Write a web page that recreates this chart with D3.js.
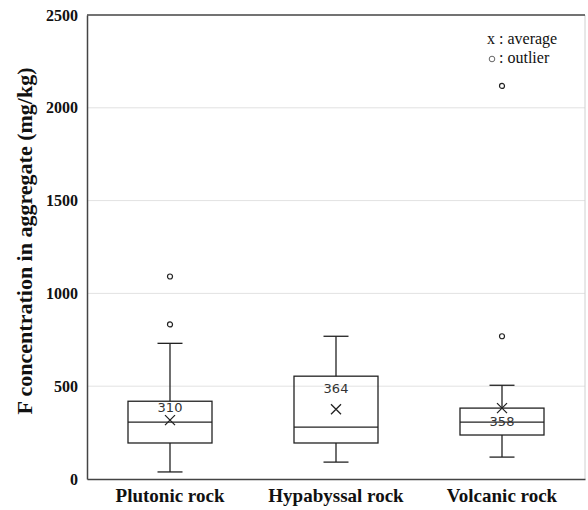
<!DOCTYPE html>
<html>
<head>
<meta charset="utf-8">
<script src="https://cdn.jsdelivr.net/npm/d3@7"></script>
<style>
body{margin:0;background:#fff;}
svg{display:block;}
</style>
</head>
<body>
<script>
// values (mg/kg)
var categories=['Plutonic rock','Hypabyssal rock','Volcanic rock'];
var whisker_low=[38,91,118];
var q1=[194,194,237];
var median=[306,280,306];
var q3=[419,554,382];
var whisker_high=[731,769,505];
var mean_value=[317,376,382];
var mean_label=['310','364','358'];
var outliers=[[833,1091],[],[769,2118]];
var yticks=[0,500,1000,1500,2000,2500];

var W=588,H=510;
var marg_left=87,marg_right=3,marg_top=15,marg_bottom=31;
var serif='"Liberation Serif","Times New Roman",serif';

var svg=d3.select('body').append('svg').attr('width',W).attr('height',H);

var xScale=d3.scaleBand()
	.domain(categories)
	.range([marg_left,W-marg_right]);
var yScale=d3.scaleLinear()
	.domain([0,2500])
	.range([H-marg_bottom,marg_top]);

// gridlines
svg.append('g').selectAll('line')
	.data(yticks.filter(function(d){return d>0&&d<2500;}))
	.enter().append('line')
	.attr('x1',marg_left).attr('x2',W-marg_right)
	.attr('y1',function(d){return yScale(d);})
	.attr('y2',function(d){return yScale(d);})
	.attr('stroke','#e2e2e2').attr('stroke-width',1);

// frame: right side light, top/left/bottom dark
svg.append('line')
	.attr('x1',W-marg_right).attr('x2',W-marg_right)
	.attr('y1',marg_top).attr('y2',H-marg_bottom)
	.attr('stroke','#d0d0d0');
svg.append('line')
	.attr('x1',marg_left).attr('x2',W-marg_right)
	.attr('y1',marg_top).attr('y2',marg_top)
	.attr('stroke','#444').attr('stroke-width',1.5);

var yAxis=d3.axisLeft(yScale).tickValues(yticks).tickFormat(d3.format('d')).tickSize(0).tickPadding(9);
var gy=svg.append('g')
	.attr('transform','translate('+marg_left+',0)')
	.call(yAxis);
gy.select('.domain').attr('stroke','#444').attr('stroke-width',1.5);
gy.selectAll('text')
	.attr('font-family',serif)
	.attr('font-weight','bold')
	.attr('font-size','16px')
	.attr('fill','#111');

var xAxis=d3.axisBottom(xScale).tickSize(0).tickPadding(10);
var gx=svg.append('g')
	.attr('transform','translate(0,'+(H-marg_bottom)+')')
	.call(xAxis);
gx.select('.domain').attr('stroke','#444').attr('stroke-width',1.5);
gx.selectAll('text')
	.attr('font-family',serif)
	.attr('font-weight','bold')
	.attr('font-size','19px')
	.attr('fill','#111');

// y axis label
svg.append('text')
	.attr('transform','rotate(-90)')
	.attr('x',-241)
	.attr('y',32)
	.style('text-anchor','middle')
	.attr('font-family',serif)
	.attr('font-weight','bold')
	.attr('font-size','22px')
	.attr('fill','#111')
	.text('F concentration in aggregate (mg/kg)');

var box_w=84,cap_w=25;
var data=categories.map(function(c,i){
	return {cat:c,lo:whisker_low[i],q1:q1[i],med:median[i],q3:q3[i],hi:whisker_high[i],
		mean:mean_value[i],label:mean_label[i],out:outliers[i]};
});

var g=svg.append('g').attr('stroke','#222').attr('stroke-width',1.3).attr('fill','none');
var box=g.selectAll('.box').data(data).enter().append('g')
	.attr('transform',function(d){return 'translate('+(xScale(d.cat)+xScale.bandwidth()/2)+',0)';});

// whiskers
box.append('line').attr('x1',0).attr('x2',0)
	.attr('y1',function(d){return yScale(d.hi);}).attr('y2',function(d){return yScale(d.q3);});
box.append('line').attr('x1',0).attr('x2',0)
	.attr('y1',function(d){return yScale(d.q1);}).attr('y2',function(d){return yScale(d.lo);});
box.append('line').attr('x1',-cap_w/2).attr('x2',cap_w/2)
	.attr('y1',function(d){return yScale(d.hi);}).attr('y2',function(d){return yScale(d.hi);});
box.append('line').attr('x1',-cap_w/2).attr('x2',cap_w/2)
	.attr('y1',function(d){return yScale(d.lo);}).attr('y2',function(d){return yScale(d.lo);});
// box
box.append('rect')
	.attr('x',-box_w/2).attr('width',box_w)
	.attr('y',function(d){return yScale(d.q3);})
	.attr('height',function(d){return yScale(d.q1)-yScale(d.q3);});
box.append('line').attr('x1',-box_w/2).attr('x2',box_w/2)
	.attr('y1',function(d){return yScale(d.med);}).attr('y2',function(d){return yScale(d.med);});
// mean marker x
box.append('path')
	.attr('d',function(d){var y=yScale(d.mean);return 'M-5,'+(y-5)+'L5,'+(y+5)+'M-5,'+(y+5)+'L5,'+(y-5);});
// outliers
box.selectAll('circle').data(function(d){return d.out;}).enter().append('circle')
	.attr('cx',0).attr('cy',function(v){return yScale(v);}).attr('r',2.5).attr('stroke-width',1.2);

// mean labels
var label_dy=[-8,-16,18];
box.append('text')
	.attr('x',0)
	.attr('y',function(d,i){return yScale(d.mean)+label_dy[i];})
	.attr('text-anchor','middle')
	.attr('stroke','none')
	.attr('fill','#333')
	.attr('font-family','"DejaVu Sans",sans-serif')
	.attr('font-size','13px')
	.text(function(d){return d.label;});

// legend
var leg=svg.append('g').attr('font-family',serif).attr('font-size','16px').attr('fill','#111');
leg.append('text').attr('x',487).attr('y',44).text('x : average');
leg.append('circle').attr('cx',492).attr('cy',59).attr('r',2.8).attr('fill','none').attr('stroke','#666').attr('stroke-width',1);
leg.append('text').attr('x',499).attr('y',63).text(': outlier');
</script>
</body>
</html>
